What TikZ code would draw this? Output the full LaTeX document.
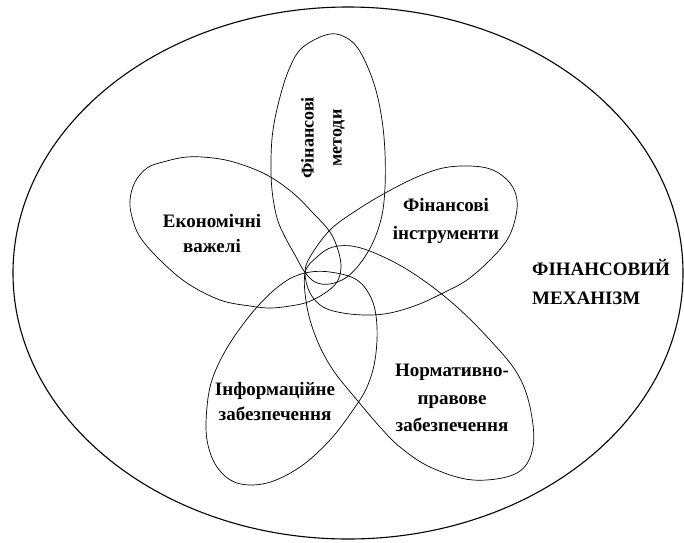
\documentclass[tikz,border=0pt]{standalone}
\usepackage{fontspec}
\setmainfont{Liberation Serif}
\begin{document}
\begin{tikzpicture}[x=1pt,y=-1pt,
  petal/.style={draw=black, line width=0.7pt},
  outerline/.style={draw=black, line width=1.1pt},
  lbl/.style={inner sep=0pt, align=center, font=\bfseries\fontsize{19}{25}\selectfont},
  vlbl/.style={inner sep=0pt, align=center, rotate=90, font=\bfseries\fontsize{18}{28}\selectfont},
  biglbl/.style={inner sep=0pt, align=left, anchor=west, font=\bfseries\fontsize{19}{29}\selectfont}]
\useasboundingbox (0,0) rectangle (684,542);
% outer ellipse
\draw[outerline] (348,273) ellipse [x radius=335, y radius=266];
% top petal
\draw[petal] plot[smooth cycle, tension=0.6] coordinates {
 (330,34) (350,40) (363,57) (375,87) (382,120) (385,153) (385,187) (382,215)
 (374,240) (362,261) (347,277) (330,284) (315,282) (304,271) (295,255) (285,237)
 (277,218) (272,190) (271,160) (273,130) (280,97) (290,67) (303,47)};
% left petal
\draw[petal] plot[smooth cycle, tension=0.6] coordinates {
 (130,200) (135,182) (147,168) (163,162) (187,157) (213,158) (237,163) (267,175)
 (293,193) (313,213) (330,232) (338,250) (341,267) (337,282) (325,293) (308,302)
 (290,306) (270,308) (250,306) (220,300) (187,283) (160,260) (140,237) (132,217)};
% right petal
\draw[petal] plot[smooth cycle, tension=0.6] coordinates {
 (305,273) (310,257) (330,230) (357,210) (387,192) (417,177) (443,168) (470,166)
 (493,170) (510,183) (517,200) (515,220) (507,240) (490,260) (467,280) (443,293)
 (417,305) (390,313) (367,315) (343,313) (323,307) (310,293)};
% bottom-right petal
\draw[petal] plot[smooth cycle, tension=0.6] coordinates {
 (305,273) (307,307) (317,340) (333,370) (357,400) (380,427) (400,447) (430,467)
 (473,480) (517,473) (533,447) (530,407) (517,373) (490,340) (457,307) (423,280)
 (390,260) (357,247) (333,247) (317,257)};
% bottom-left petal
\draw[petal] plot[smooth cycle, tension=0.6] coordinates {
 (305,273) (330,272) (357,280) (372,300) (377,327) (375,360) (367,387) (353,410)
 (330,440) (300,467) (267,483) (237,483) (217,467) (207,440) (207,407) (213,377)
 (230,343) (257,307) (283,283)};
% labels
\node[vlbl] (methods) at (323,138) {Фінансові\\методи};
\node[lbl] (levers) at (212,233) {Економічні\\важелі};
\node[lbl, font=\bfseries\fontsize{19}{28}\selectfont] (instr) at (446,221) {Фінансові\\інструменти};
\node[lbl] (info) at (275,401) {Інформаційне\\забезпечення};
\node[lbl, font=\bfseries\fontsize{19}{27.5}\selectfont] (norm) at (452,398) {Нормативно-\\правове\\забезпечення};
\node[biglbl] (mech) at (532,282) {ФІНАНСОВИЙ\\МЕХАНІЗМ};
\end{tikzpicture}
\end{document}
